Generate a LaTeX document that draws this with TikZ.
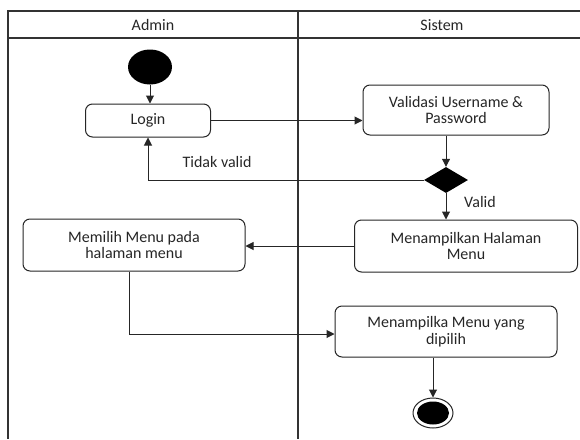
\documentclass[tikz,border=0pt]{standalone}
\usepackage{fontspec}
\setmainfont{Carlito}
\usetikzlibrary{shapes.geometric,arrows.meta}
\begin{document}
\begin{tikzpicture}[x=1pt,y=-1pt,
  font=\fontsize{16}{16.5}\selectfont,
  act/.style={draw=black!85,line width=1pt,rounded corners=7pt,fill=white,
    align=center,inner sep=0pt,text=black!85},
  lane/.style={draw=black!80,line width=1.3pt},
  flow/.style={draw=black!85,line width=1pt,-{Triangle[length=8pt,width=8pt]}},
  lbl/.style={text=black!85,inner sep=0pt}]
\useasboundingbox (0,0) rectangle (580,439);
% swimlanes
\coordinate (tl) at (8,11);
\coordinate (tr) at (580,11);
\coordinate (hl) at (8,38);
\coordinate (hr) at (580,38);
\coordinate (bl) at (8,439);
\coordinate (dt) at (298,11);
\coordinate (db) at (298,439);
\draw[lane] (tr) -- (tl) -- (bl);
\draw[lane] (hl) -- (hr);
\draw[lane] (dt) -- (db);
\node[lbl] (hadmin) at (153,25) {Admin};
\node[lbl] (hsistem) at (442,25) {Sistem};
% nodes
\node[ellipse,fill=black,minimum width=44pt,minimum height=35pt,inner sep=0pt] (start) at (150,67) {};
\node[act,minimum width=125pt,minimum height=33pt] (login) at (148,120.5) {Login};
\node[act,minimum width=186pt,minimum height=50pt] (valid) at (456,110) {Validasi Username \&\\Password};
\node[diamond,fill=black,minimum width=44pt,minimum height=26pt,inner sep=0pt,aspect=1.7] (dec) at (446,180) {};
\node[act,minimum width=223pt,minimum height=52pt] (halaman) at (466,246) {Menampilkan Halaman\\Menu};
\node[act,minimum width=222pt,minimum height=52pt] (memilih) at (134,245) {Memilih Menu pada\\halaman menu};
\node[act,minimum width=222pt,minimum height=51pt] (sel) at (446,331.5) {Menampilka Menu yang\\dipilih};
\node[ellipse,draw=black!85,line width=1pt,fill=white,minimum width=40pt,minimum height=30pt,inner sep=0pt] (end) at (433,413) {};
\node[ellipse,fill=black,minimum width=32pt,minimum height=23pt,inner sep=0pt] (endin) at (433,413) {};
% labels
\node[lbl] (ltv) at (217,162) {Tidak valid};
\node[lbl] (lv) at (480,202) {Valid};
% connectors
\coordinate (bend) at (129,334);
\draw[flow] (start.south) -- (start.south |- login.north);
\draw[flow] (login.east) -- (login.east -| valid.west);
\draw[flow] (dec.north |- valid.south) -- (dec.north);
\draw[flow] (dec.west) -- (login.south |- dec.west) -- (login.south);
\draw[flow] (dec.south) -- (dec.south |- halaman.north);
\draw[flow] (halaman.west) -- (halaman.west -| memilih.east);
\draw[flow] (bend |- memilih.south) -- (bend) -- (bend -| sel.west);
\draw[flow] (end.north |- sel.south) -- (end.north);
\end{tikzpicture}
\end{document}
